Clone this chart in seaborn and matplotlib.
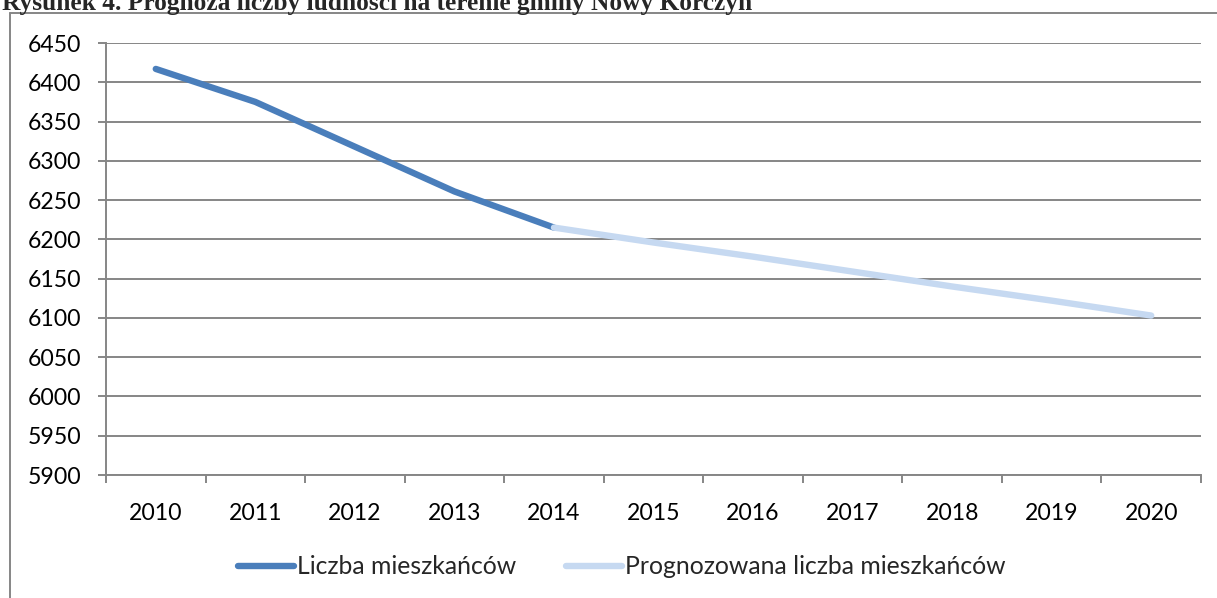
import pandas as pd
import seaborn as sns
import matplotlib.pyplot as plt
from matplotlib.lines import Line2D

# data
years_actual = [2010, 2011, 2012, 2013, 2014]
population_actual = [6417, 6375, 6318, 6261, 6215]
years_forecast = [2014, 2015, 2016, 2017, 2018, 2019, 2020]
population_forecast = [6215, 6196, 6178, 6159, 6140, 6122, 6103]
all_years = list(range(2010, 2021))
y_ticks = list(range(5900, 6451, 50))

label_actual = "Liczba mieszkańców"
label_forecast = "Prognozowana liczba mieszkańców"
title = "Rysunek 4. Prognoza liczby ludności na terenie gminy Nowy Korczyn"

actual = pd.DataFrame({"Rok": years_actual, "Ludność": population_actual})
forecast = pd.DataFrame({"Rok": years_forecast, "Ludność": population_forecast})

sns.set_style("white")
plt.rcParams["font.family"] = ["Lato", "DejaVu Sans"]

fig = plt.figure(figsize=(12.17, 5.98), dpi=100)
ax = fig.add_axes([106 / 1217, 1 - 475 / 598, (1201 - 106) / 1217, (475 - 43) / 598])

grid_col = "#868686"
sns.lineplot(data=actual, x="Rok", y="Ludność", ax=ax, color="#4A7EBB", linewidth=4.6,
             solid_capstyle="round", label=label_actual, legend=False)
sns.lineplot(data=forecast, x="Rok", y="Ludność", ax=ax, color="#C6D9F1", linewidth=4.6,
             solid_capstyle="round", label=label_forecast, legend=False)

ax.set_xlim(2009.5, 2020.5)
ax.set_ylim(5900, 6450)
ax.set_yticks(y_ticks)
ax.set_xticks(all_years)
ax.set_xticks([y - 0.5 for y in all_years] + [2020.5], minor=True)
ax.yaxis.grid(True, color=grid_col, linewidth=1.4)
ax.set_axisbelow(True)
ax.set_xlabel("")
ax.set_ylabel("")

for side in ["top", "right"]:
    ax.spines[side].set_visible(False)
for side in ["left", "bottom"]:
    ax.spines[side].set_color(grid_col)
    ax.spines[side].set_linewidth(1.4)

ax.tick_params(axis="y", which="major", left=True, length=6, width=1.4, color=grid_col,
               direction="out", pad=12, labelsize=16.6, labelcolor="black")
ax.tick_params(axis="x", which="major", length=0, pad=20, labelsize=16.6, labelcolor="black")
ax.tick_params(axis="x", which="minor", bottom=True, length=6, width=1.4, color=grid_col,
               direction="out")

handles = [Line2D([], [], color="#4A7EBB", linewidth=4.6, solid_capstyle="round"),
           Line2D([], [], color="#C6D9F1", linewidth=4.6, solid_capstyle="round")]
fig.legend(handles, [label_actual, label_forecast], loc="center", ncol=2,
           bbox_to_anchor=(622 / 1217, 1 - 567 / 598), frameon=False, fontsize=17.8,
           handlelength=2.27, handletextpad=0.12, columnspacing=2.0)

# outer chart frame (cropped on the right and bottom)
fig.add_artist(Line2D([10 / 1217, 1], [1 - 13 / 598, 1 - 13 / 598], color=grid_col, linewidth=1.4))
fig.add_artist(Line2D([10 / 1217, 10 / 1217], [0, 1 - 13 / 598], color=grid_col, linewidth=1.4))

fig.text(2 / 1217, 1 - 10 / 598, title, family="Liberation Serif", weight="bold",
         fontsize=18.3, ha="left", va="baseline")

fig.savefig("out.png", dpi=100)
